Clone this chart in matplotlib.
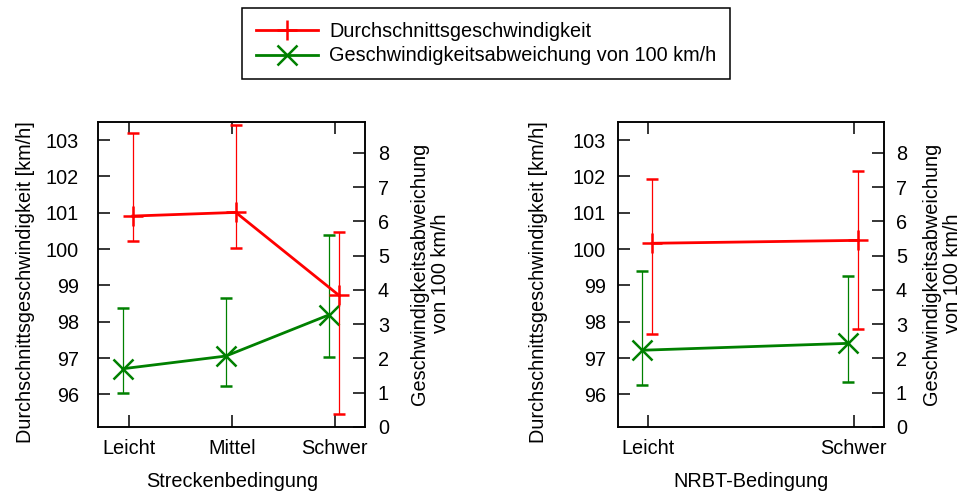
import matplotlib
matplotlib.use("Agg")
import matplotlib.pyplot as plt
from matplotlib.lines import Line2D
import numpy as np

plt.rcParams['font.family'] = ['Liberation Sans', 'DejaVu Sans']
FS = 14.3

# Streckenbedingung panel
cats_strecke = ["Leicht", "Mittel", "Schwer"]
speed_strecke = [100.91, 101.01, 98.73]
speed_strecke_lo = [100.22, 100.04, 95.47]
speed_strecke_hi = [103.21, 103.41, 100.47]
dev_strecke = [1.70, 2.07, 3.27]
dev_strecke_lo = [0.99, 1.19, 2.05]
dev_strecke_hi = [3.48, 3.77, 5.61]

# NRBT-Bedingung panel
cats_nrbt = ["Leicht", "Schwer"]
speed_nrbt = [100.16, 100.24]
speed_nrbt_lo = [97.66, 97.80]
speed_nrbt_hi = [101.92, 102.14]
dev_nrbt = [2.24, 2.44]
dev_nrbt_lo = [1.24, 1.31]
dev_nrbt_hi = [4.56, 4.42]

speed_ticks = [96, 97, 98, 99, 100, 101, 102, 103]
dev_ticks = [0, 1, 2, 3, 4, 5, 6, 7, 8]

RED = "#ff0000"
GREEN = "#008000"
W, H = 965, 500
LW = 2.0

fig = plt.figure(figsize=(W / 100, H / 100), dpi=100)


def panel(rect_px, cats, spd, spd_lo, spd_hi, dev, dev_lo, dev_hi, xlabel,
          left_pad, right_pad, ylab_left_x, ylab_right_x):
    x0, y0, w, h = rect_px
    ax = fig.add_axes([x0 / W, y0 / H, w / W, h / H])
    axt = ax.twinx()
    n = len(cats)
    pad_px = 30.5
    unit = (w - 2 * pad_px) / (n - 1)
    pad = pad_px / unit
    x = np.arange(n)
    xr = x + 4 / unit
    xg = x - 6 / unit

    spd = np.array(spd)
    dev = np.array(dev)
    ax.errorbar(xr, spd, yerr=[spd - np.array(spd_lo), np.array(spd_hi) - spd],
                color=RED, lw=LW, marker='+', ms=14, mew=1.8,
                elinewidth=0.9, ecolor=RED, capsize=4.2, capthick=0.9)
    axt.errorbar(xg, dev, yerr=[dev - np.array(dev_lo), np.array(dev_hi) - dev],
                 color=GREEN, lw=LW, marker='x', ms=14, mew=1.8,
                 elinewidth=0.9, ecolor=GREEN, capsize=4.2, capthick=0.9)

    ax.set_zorder(axt.get_zorder() + 1)
    ax.patch.set_visible(False)

    ax.set_xlim(-pad, n - 1 + pad)
    ax.set_ylim(95.1, 103.5)
    axt.set_ylim(0, 8.9)
    ax.set_xticks(x)
    ax.set_xticklabels(cats)
    ax.set_yticks(speed_ticks)
    axt.set_yticks(dev_ticks)

    ax.tick_params(axis='x', direction='in', length=8.6, width=1.1, top=True,
                   labelsize=FS, pad=8.5)
    ax.tick_params(axis='y', direction='in', length=8.6, width=1.1, right=False,
                   labelsize=FS, pad=left_pad)
    axt.tick_params(axis='y', direction='in', length=8.6, width=1.1,
                    labelsize=FS, pad=right_pad)
    for a in (ax, axt):
        for s in a.spines.values():
            s.set_linewidth(1.1)

    ax.set_xlabel(xlabel, fontsize=FS, labelpad=10)
    ax.set_ylabel("Durchschnittsgeschwindigkeit [km/h]", fontsize=FS, va='center')
    ax.yaxis.set_label_coords(ylab_left_x, 0.475)
    axt.set_ylabel("Geschwindigkeitsabweichung\nvon 100 km/h", fontsize=FS,
                   va='center', linespacing=1.1)
    axt.yaxis.set_label_coords(ylab_right_x, 0.503)
    return ax, axt


panel((98.3, 73, 267, 305), cats_strecke, speed_strecke, speed_strecke_lo,
      speed_strecke_hi, dev_strecke, dev_strecke_lo, dev_strecke_hi,
      "Streckenbedingung", 14.0, 9.0, -0.271, 1.242)
panel((617.7, 73, 266.3, 305), cats_nrbt, speed_nrbt, speed_nrbt_lo,
      speed_nrbt_hi, dev_nrbt, dev_nrbt_lo, dev_nrbt_hi,
      "NRBT-Bedingung", 8.5, 8.6, -0.299, 1.218)

handles = [
    Line2D([], [], color=RED, lw=LW, marker='+', ms=14, mew=1.8),
    Line2D([], [], color=GREEN, lw=LW, marker='x', ms=14, mew=1.8),
]
labels = ["Durchschnittsgeschwindigkeit", "Geschwindigkeitsabweichung von 100 km/h"]
leg = fig.legend(handles, labels, loc='upper center', bbox_to_anchor=(0.504, 0.984),
                 borderaxespad=0, fontsize=FS, frameon=True, fancybox=False,
                 edgecolor='black', framealpha=1, numpoints=1, handlelength=3.1,
                 handletextpad=0.6, labelspacing=0.3, borderpad=0.68)
leg.get_frame().set_linewidth(1.1)

fig.savefig("out.png", dpi=100)
